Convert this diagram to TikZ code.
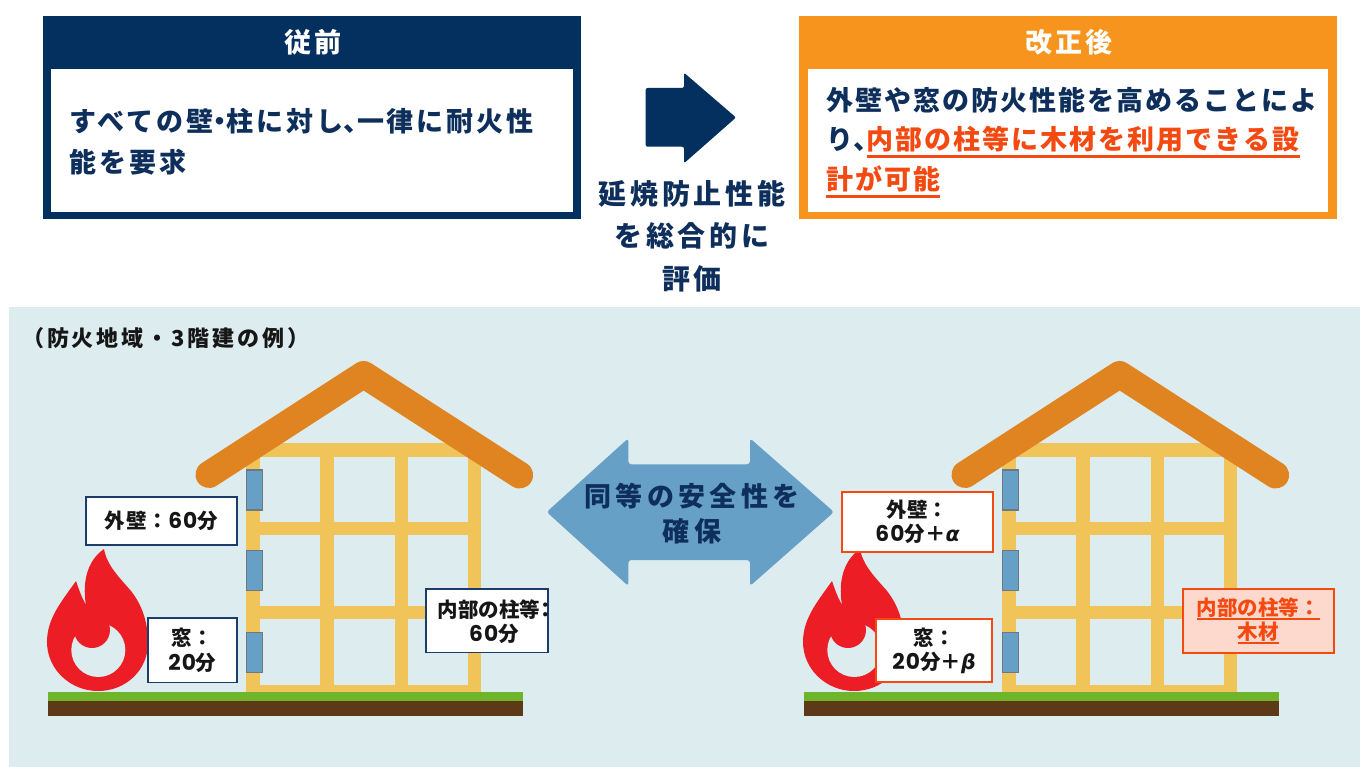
\documentclass[tikz,border=0pt]{standalone}
\usepackage{fontspec}
\setmainfont{Noto Sans CJK JP}
\newfontfamily\numfont{Poppins}[Scale=1.06, LetterSpace=5]
\newfontfamily\greekfont{DejaVu Sans}
\usepackage{tikz}

\definecolor{navy}{HTML}{03305F}
\definecolor{navytxt}{HTML}{0E2F5B}
\definecolor{orangehead}{HTML}{F7941E}
\definecolor{redtxt}{HTML}{F44A12}
\definecolor{roofc}{HTML}{E08422}
\definecolor{timberc}{HTML}{F1C459}
\definecolor{panec}{HTML}{66A0C6}
\definecolor{paneline}{HTML}{6E7882}
\definecolor{arrowc}{HTML}{67A0C6}
\definecolor{panelc}{HTML}{DCECEF}
\definecolor{flamec}{HTML}{EC1D25}
\definecolor{grassc}{HTML}{6EB52C}
\definecolor{soilc}{HTML}{5D3917}
\definecolor{tagline}{HTML}{1C3C6C}
\definecolor{tagpink}{HTML}{FDD9CD}
\definecolor{inkc}{HTML}{161616}

% half-width punctuation
\newcommand{\half}[1]{{\addfontfeature{CharacterWidth=AlternateHalf}#1}}
% spaced-out text
\newcommand{\spaced}[1]{\addfontfeature{LetterSpace=#1}}
% underlined runs: body size and tag size
\newsavebox{\markbox}
\newcommand{\bigmark}[1]{\sbox{\markbox}{#1}\rlap{\rule[-8.5pt]{\wd\markbox}{2.6pt}}\usebox{\markbox}}
\newcommand{\tagmark}[1]{\sbox{\markbox}{#1}\rlap{\rule[-4.4pt]{\wd\markbox}{2pt}}\usebox{\markbox}}
\newcommand{\greek}[1]{{\greekfont\itshape #1}}

% one framed house with flame and ground, left edge of ground at x=47.5
\newcommand{\drawhouse}{%
  \foreach \px in {246.4,320,394.6,467.5}
    \fill[timber] (\px,443.3) rectangle ++(13.5,249);
  \foreach \py in {443.3,521.7,606,685}
    \fill[timber] (246.4,\py) rectangle ++(234.6,13.3);
  \draw[roof] (209,474.5) -- (363.6,374.5) -- (519.6,475);
  \foreach \wy in {470,550.7,632.7}
    \filldraw[pane] (246.4,\wy) rectangle ++(16,40);
  % flame
  \fill[flame] (104,549) .. controls (107,566) and (120,578) .. (131,591)
    .. controls (142,605) and (148,622) .. (148,643)
    .. controls (148,670) and (126,691) .. (98,691)
    .. controls (70,691) and (47,669) .. (47,642)
    .. controls (47,618) and (62,601) .. (76,581)
    .. controls (79,590) and (82,598) .. (86,605)
    .. controls (83,588) and (84,563) .. (104,549) -- cycle;
  \fill[panelc] (98.3,650) circle (27pt);
  \fill[flame] (92,630) circle (18pt);
  % ground
  \fill[grass] (47.5,691.7) rectangle (522.5,701);
  \fill[soil] (47.5,701) rectangle (522.5,715.7);
}

\begin{document}
\begin{tikzpicture}[
  x=1pt, y=-1pt,
  headtxt/.style={font=\fontsize{27}{30}\selectfont\bfseries\spaced{12}, text=white, inner sep=0pt},
  bodytxt/.style={font=\fontsize{27}{32}\selectfont\bfseries\spaced{7.5}, text=navytxt, inner sep=0pt},
  oldtxt/.style={bodytxt, font=\fontsize{27}{32}\selectfont\bfseries\spaced{11}},
  midtxt/.style={font=\fontsize{28}{42.5}\selectfont\bfseries\spaced{13}, text=navytxt, align=center, inner sep=0pt},
  arrtxt/.style={font=\fontsize{27}{35}\selectfont\bfseries\spaced{16}, text=navytxt, align=center, inner sep=0pt},
  captxt/.style={font=\fontsize{22}{24}\selectfont\bfseries\spaced{13}, text=inkc, inner sep=0pt},
  timber/.style={fill=timberc},
  roof/.style={draw=roofc, line width=27pt, line cap=round, line join=round},
  pane/.style={fill=panec, draw=paneline, line width=1.2pt},
  flame/.style={fill=flamec},
  grass/.style={fill=grassc},
  soil/.style={fill=soilc},
  tagtxt/.style={text=inkc, font=\fontsize{20.5}{24.5}\selectfont\bfseries,
                 align=center, inner sep=0pt},
  tagold/.style={tagtxt, draw=tagline, line width=1.6pt, fill=white},
  tagnew/.style={tagold, draw=redtxt, line width=2pt},
  tagwood/.style={tagnew, fill=tagpink, text=redtxt}
]
\useasboundingbox (0,0) rectangle (1360,767);
\fill[white] (0,0) rectangle (1360,767);

% ---- before / after boxes ----
\fill[navy] (43,16) rectangle (580.5,219.5);
\fill[white] (51,69) rectangle (573,212);
\node[headtxt] (oldhead) at (313,42) {従前};
\node[oldtxt, anchor=west] (old1) at (69,121) {すべての壁\half{・}柱に対し\half{、}一律に耐火性};
\node[oldtxt, anchor=west] (old2) at (69,162) {能を要求};

\fill[orangehead] (799,16) rectangle (1336.5,219.5);
\fill[white] (807.5,69) rectangle (1328,212);
\node[headtxt] (newhead) at (1069,42) {改正後};
\node[bodytxt, anchor=west] (new1) at (826,100) {外壁や窓の防火性能を高めることによ};
\node[bodytxt, anchor=west] (new2) at (826,141.7) {り\half{、}\textcolor{redtxt}{\bigmark{内部の柱等に木材を利用できる設}}};
\node[bodytxt, anchor=west] (new3) at (826,181.7) {\textcolor{redtxt}{\bigmark{計が可能}}};

% arrow between the boxes
\fill[navy, rounded corners=2pt] (645.7,88) -- (684,88) -- (684,72.7) -- (736,117.5)
  -- (684,163.3) -- (684,146.7) -- (645.7,146.7) -- cycle;
\node[midtxt] (evaluate) at (692,236) {延焼防止性能\\を総合的に\\評価};

% ---- example panel ----
\fill[panelc] (9,307) rectangle (1360,767);
\node[captxt, anchor=west] (case) at (22,338) {（防火地域・3階建の例）};

\drawhouse
\begin{scope}[xshift=756pt]
  \drawhouse
\end{scope}

% equal safety arrow
\fill[arrowc, rounded corners=3pt] (546.7,512) -- (628.3,438.3) -- (628.3,464.3)
  -- (750,464.3) -- (750,438.3) -- (834,512) -- (750,586) -- (750,560)
  -- (628.3,560) -- (628.3,586) -- cycle;
\node[arrtxt] (equal) at (692,514) {同等の安全性を\\確保};

% tags, left house
\node[tagold, minimum width=151pt, minimum height=48pt] (wall1) at (161.3,520.8)
  {\spaced{5}外壁：{\numfont 60}分};
\node[tagold, minimum width=88.8pt, minimum height=64.7pt] (win1) at (192.4,650.3)
  {窓：\\{\numfont 20}分};
\node[tagold, minimum width=122pt, minimum height=63.7pt] (post1) at (486.9,620.8) {};
\node[tagtxt] (post1txt) at (494,621.5) {内部の柱等\half{：}\\{\numfont 60}分};

% tags, right house
\node[tagnew, minimum width=151.7pt, minimum height=60.6pt] (wall2) at (917.5,522)
  {外壁：\\{\numfont 60}分＋\greek{α}};
\node[tagnew, minimum width=116pt, minimum height=63.3pt] (win2) at (934,650.7)
  {窓：\\{\numfont 20}分＋\greek{β}};
\node[tagwood, minimum width=151pt, minimum height=64.3pt] (post2) at (1258,621)
  {\tagmark{内部の柱等：}\\\tagmark{木材}};
\end{tikzpicture}
\end{document}
